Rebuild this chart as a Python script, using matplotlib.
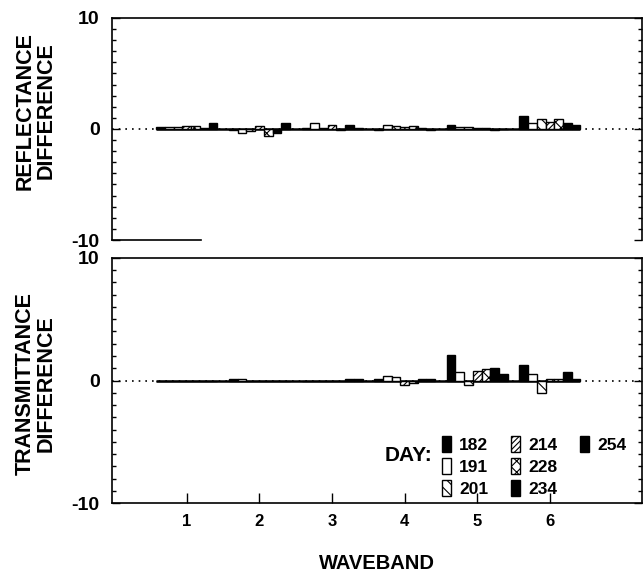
import numpy as np
import matplotlib.pyplot as plt
from matplotlib.ticker import MultipleLocator
from matplotlib.patches import Rectangle

plt.rcParams['font.family'] = ['Liberation Sans', 'DejaVu Sans']
plt.rcParams['font.weight'] = 'bold'
plt.rcParams['hatch.linewidth'] = 0.8
plt.rcParams['axes.unicode_minus'] = False

wavebands = [1, 2, 3, 4, 5, 6]
days = ['182', '191', '201', '214', '228', '234', '254']

# one list per day, values for wavebands 1..6
refl = {
    '182': [0.2, -0.1, 0.1, -0.1, 0.4, 1.2],
    '191': [0.2, -0.4, 0.5, 0.4, 0.2, 0.5],
    '201': [0.2, -0.2, 0.1, 0.3, 0.2, 0.9],
    '214': [0.3, 0.3, 0.4, 0.2, 0.1, 0.6],
    '228': [0.3, -0.6, -0.1, 0.3, 0.1, 0.9],
    '234': [0.1, -0.4, 0.4, 0.1, -0.1, 0.5],
    '254': [0.5, 0.5, 0.1, -0.1, 0.0, 0.4],
}
trans = {
    '182': [0.0, 0.1, 0.0, 0.1, 2.1, 1.3],
    '191': [0.0, 0.1, 0.0, 0.4, 0.7, 0.5],
    '201': [0.0, 0.0, 0.0, 0.3, -0.4, -1.0],
    '214': [0.0, 0.0, 0.0, -0.4, 0.8, 0.1],
    '228': [0.0, 0.0, 0.0, -0.2, 0.9, 0.1],
    '234': [0.0, 0.0, 0.1, 0.1, 1.0, 0.7],
    '254': [0.0, 0.0, 0.1, 0.1, 0.5, 0.1],
}

styles = {
    '182': dict(facecolor='black', hatch=None),
    '191': dict(facecolor='white', hatch=None),
    '201': dict(facecolor='white', hatch='\\\\\\'),
    '214': dict(facecolor='white', hatch='//////'),
    '228': dict(facecolor='white', hatch='xxx'),
    '234': dict(facecolor='black', hatch=None),
    '254': dict(facecolor='black', hatch=None),
}

width = 0.12

fig = plt.figure(figsize=(6.44, 5.77), dpi=100)
ax1 = fig.add_axes([0.174, 0.584, 0.823, 0.385])
ax2 = fig.add_axes([0.174, 0.128, 0.823, 0.425])


def draw(ax, data):
    x = np.array(wavebands, dtype=float)
    ax.axhline(0, color='black', ls=(0, (1, 3)), lw=1.2, zorder=1)
    left = x[0] - 3.5 * width
    right = x[-1] + 3.5 * width
    ax.hlines(0, left, right, color='black', lw=1.8, zorder=2)
    handles = []
    for i, d in enumerate(days):
        b = ax.bar(x + (i - 3) * width, data[d], width=width,
                   edgecolor='black', linewidth=1.0, zorder=3, label=d,
                   **styles[d])
        handles.append(b)
    ax.set_xlim(-0.03, 7.27)
    ax.set_ylim(-10, 10)
    ax.set_yticks([-10, 0, 10])
    ax.yaxis.set_minor_locator(MultipleLocator(1))
    ax.tick_params(axis='y', which='both', direction='in', left=True,
                   right=True, labelsize=14, width=1, pad=9)
    ax.tick_params(axis='y', which='major', length=6)
    ax.tick_params(axis='y', which='minor', length=3)
    for s in ax.spines.values():
        s.set_linewidth(1.2)
    return handles


draw(ax1, refl)
ax1.set_xticks([])
ax1.spines['bottom'].set_bounds(-0.03, 1.2)

handles = draw(ax2, trans)
ax2.set_xticks(wavebands)
ax2.tick_params(axis='x', direction='in', length=7, width=1, labelsize=12,
                pad=8)
ax2.set_xlabel('WAVEBAND', fontsize=14.5, fontweight='bold', labelpad=18)

fig.text(36 / 644, 1 - 111 / 577, 'REFLECTANCE\nDIFFERENCE', rotation=90,
         ha='center', va='center', fontsize=15.5, fontweight='bold',
         linespacing=1.0)
fig.text(36 / 644, 1 - 384 / 577, 'TRANSMITTANCE\nDIFFERENCE', rotation=90,
         ha='center', va='center', fontsize=15.5, fontweight='bold',
         linespacing=1.0)

# pad the legend so columns hold 3, 3 and 1 entries
blank = Rectangle((0, 0), 1, 1, visible=False)
leg_handles = handles + [blank, blank]
leg_labels = days + ['', '']
leg = ax2.legend(handles=leg_handles, labels=leg_labels, ncol=3,
                 loc='upper left', bbox_to_anchor=(0.622, 0.272),
                 borderaxespad=0, borderpad=0, frameon=False, fontsize=12.5,
                 handlelength=0.55, handleheight=1.0, handletextpad=0.45,
                 columnspacing=1.3, labelspacing=0.3)
ax2.text(0.515, 0.196, 'DAY:', transform=ax2.transAxes, fontsize=15,
         fontweight='bold', va='center', ha='left')

fig.savefig('out.png', dpi=100)
